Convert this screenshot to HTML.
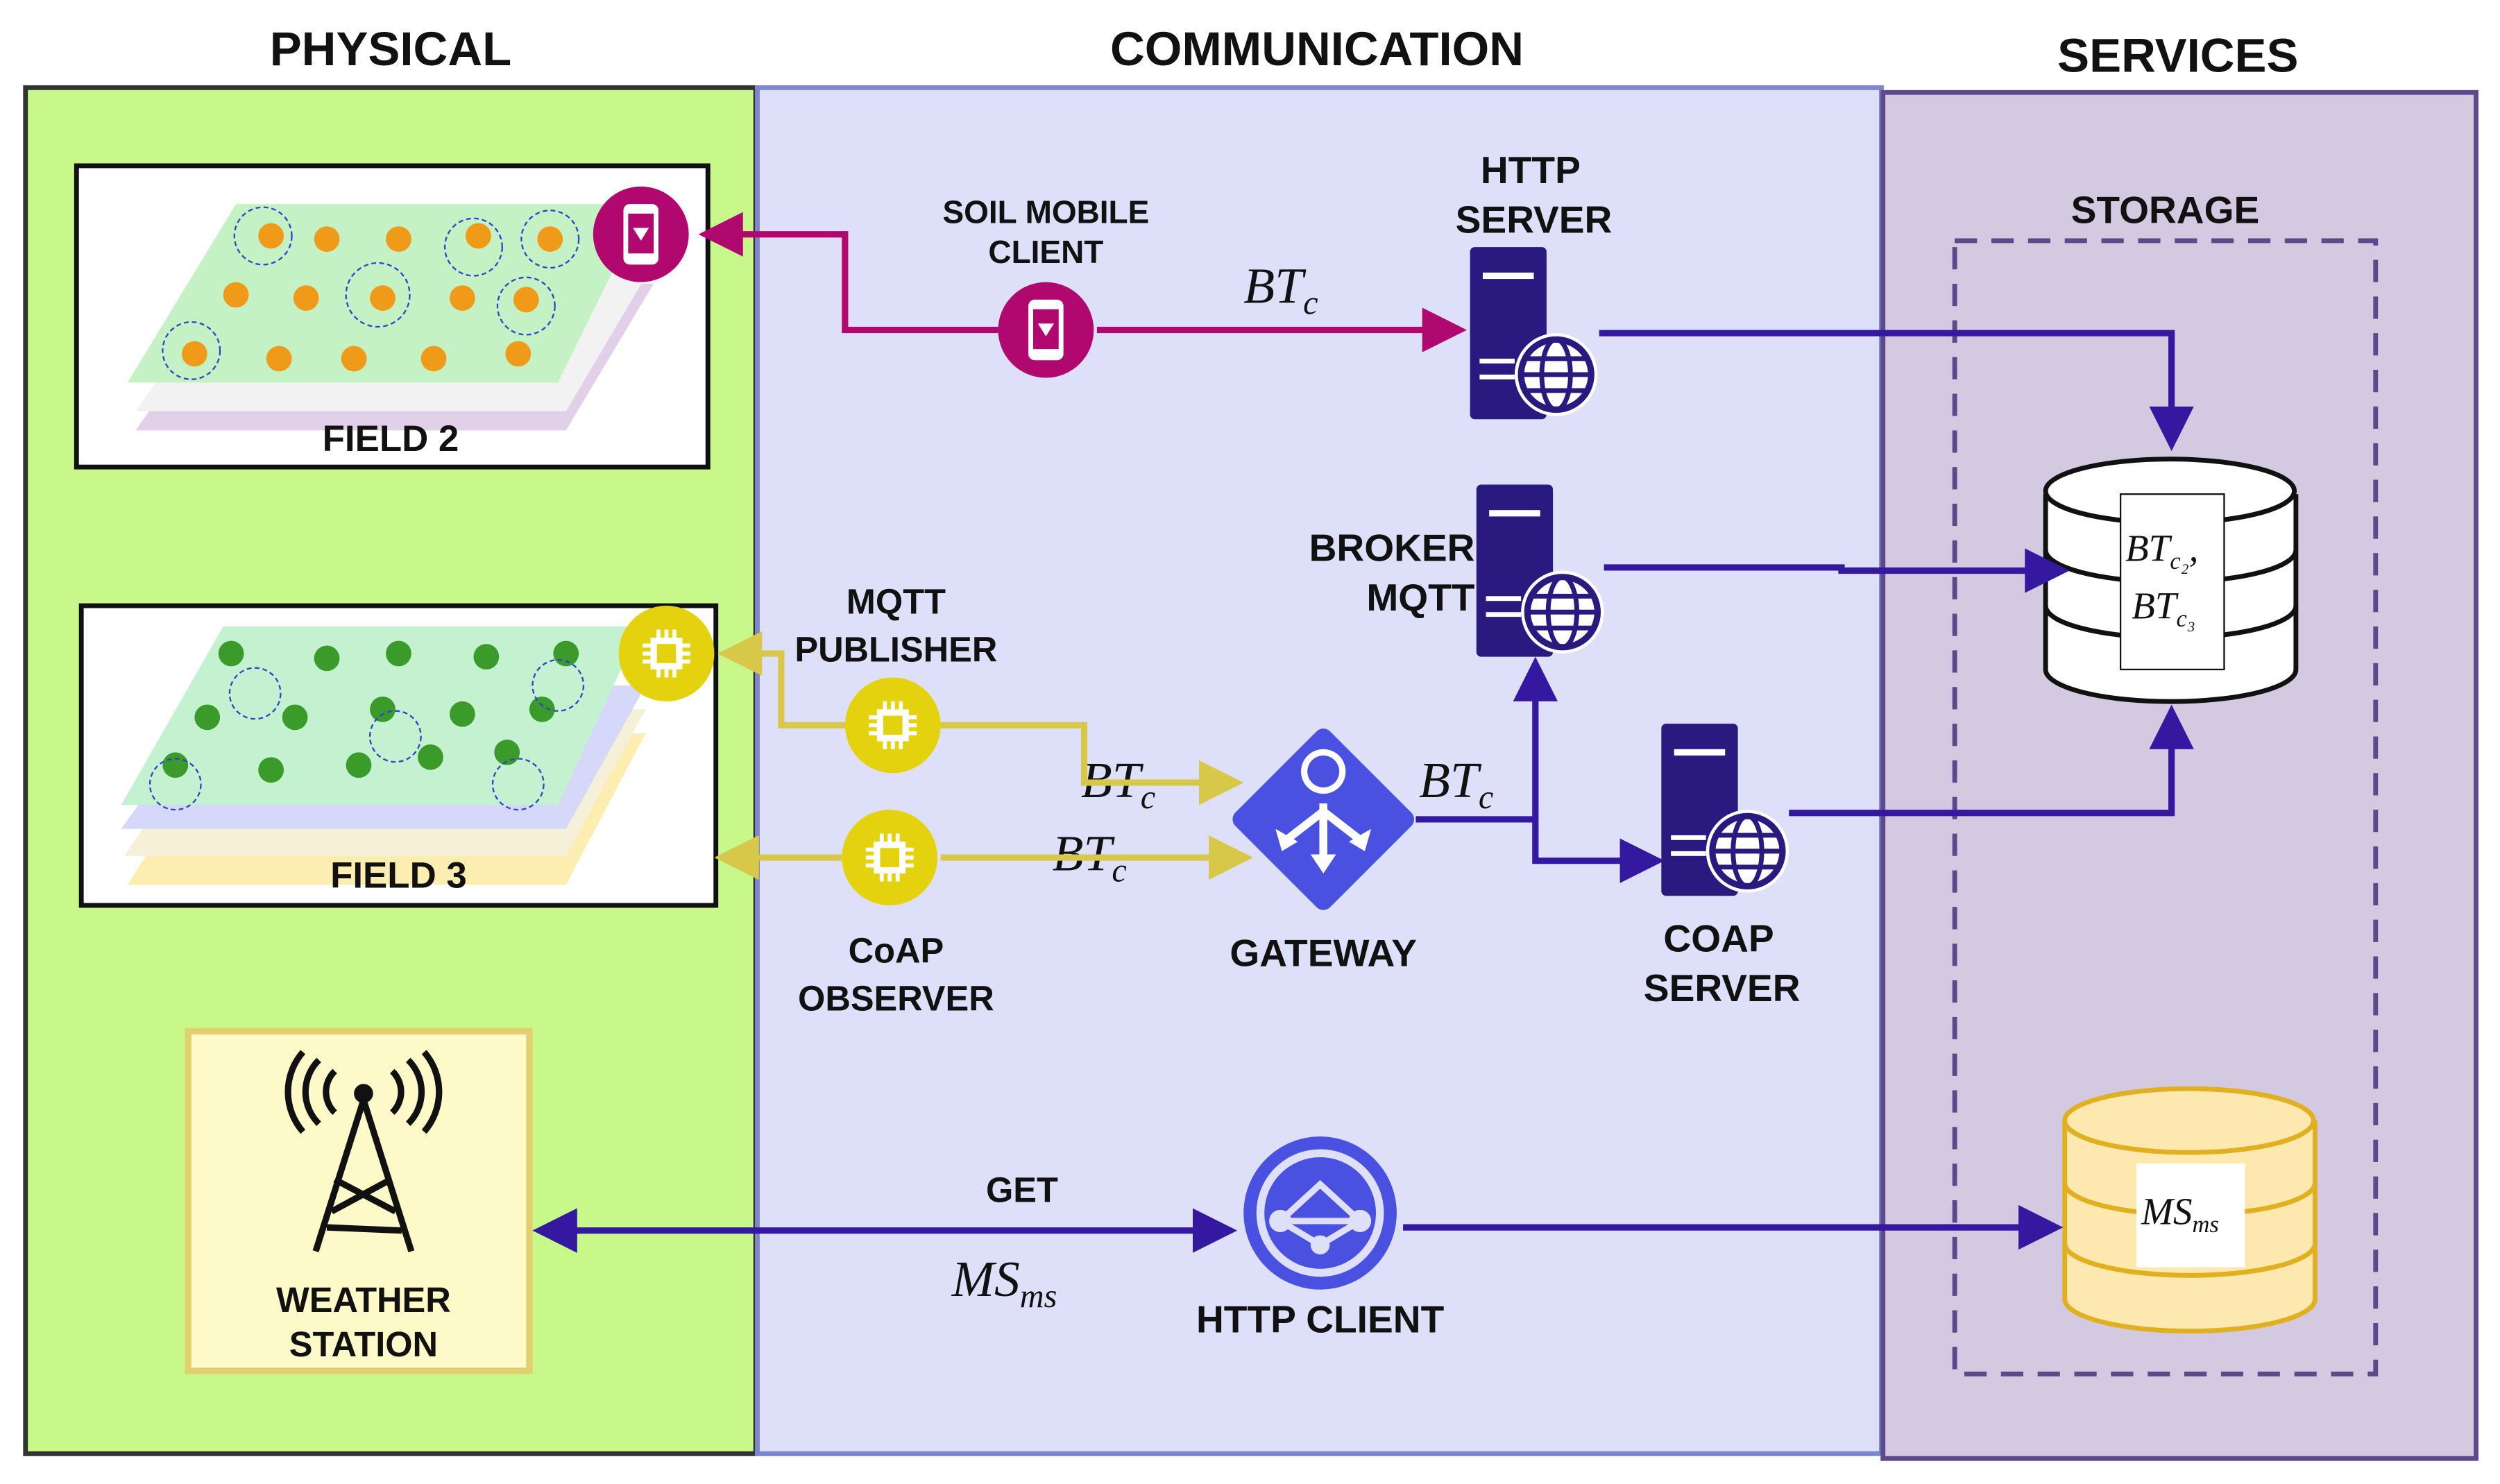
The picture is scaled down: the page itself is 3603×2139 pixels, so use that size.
<!DOCTYPE html>
<html><head><meta charset="utf-8"><style>
html,body{margin:0;padding:0;background:#fff}
svg{display:block}
text{font-family:"Liberation Sans",sans-serif;font-weight:bold;fill:#111}
.m{font-family:"Liberation Serif",serif;font-style:italic;font-weight:normal}
</style></head><body>
<svg width="3603" height="2139" viewBox="0 0 1568 931" preserveAspectRatio="none" xmlns="http://www.w3.org/2000/svg">
<defs>
<marker id="am" markerWidth="7" markerHeight="7" refX="5" refY="3.5" orient="auto" viewBox="0 0 7 7" markerUnits="strokeWidth"><path d="M0,0 L7,3.5 L0,7 z" fill="#b0086e"/></marker>
<marker id="ay" markerWidth="7" markerHeight="7" refX="5" refY="3.5" orient="auto" viewBox="0 0 7 7" markerUnits="strokeWidth"><path d="M0,0 L7,3.5 L0,7 z" fill="#d8c84a"/></marker>
<marker id="ab" markerWidth="7" markerHeight="7" refX="5" refY="3.5" orient="auto" viewBox="0 0 7 7" markerUnits="strokeWidth"><path d="M0,0 L7,3.5 L0,7 z" fill="#3418a0"/></marker>
<g id="srv"><rect x="0" y="0" width="48" height="108" rx="3" fill="#2a1a80"/><rect x="8" y="16" width="32" height="4" fill="#fff"/><rect x="6" y="70" width="22" height="3" fill="#fff"/><rect x="6" y="80" width="22" height="3" fill="#fff"/><circle cx="54" cy="80" r="26" fill="#fff"/><circle cx="54" cy="80" r="22" fill="none" stroke="#2a1a80" stroke-width="4"/><ellipse cx="54" cy="80" rx="9" ry="22" fill="none" stroke="#2a1a80" stroke-width="3"/><line x1="32" y1="80" x2="76" y2="80" stroke="#2a1a80" stroke-width="3"/><line x1="35" y1="70" x2="73" y2="70" stroke="#2a1a80" stroke-width="3"/><line x1="35" y1="90" x2="73" y2="90" stroke="#2a1a80" stroke-width="3"/></g>
<g id="chip"><circle r="30" fill="#e5d20e"/><rect x="-10" y="-10" width="20" height="20" fill="#fff"/><g stroke="#fff" stroke-width="2.5"><line x1="-5" y1="-15" x2="-5" y2="15"/><line x1="0" y1="-15" x2="0" y2="15"/><line x1="5" y1="-15" x2="5" y2="15"/><line x1="-15" y1="-5" x2="15" y2="-5"/><line x1="-15" y1="0" x2="15" y2="0"/><line x1="-15" y1="5" x2="15" y2="5"/></g><rect x="-6" y="-6" width="12" height="12" fill="#e5d20e"/></g>
<g id="phone"><circle r="30" fill="#b0086e"/><rect x="-11" y="-19" width="22" height="38" rx="4" fill="#fff"/><rect x="-8" y="-13" width="16" height="25" fill="#b0086e"/><path d="M-5,-4 L5,-4 L0,4 z" fill="#fff"/></g>
</defs>
<rect x="16" y="55" width="458" height="857" fill="#c8f78a" stroke="#333" stroke-width="3"/>
<rect x="475" y="55" width="705" height="857" fill="#dde0f8" stroke="#7b86cc" stroke-width="3"/>
<rect x="1181" y="58" width="372" height="857" fill="#d3c9e1" stroke="#5c4a8c" stroke-width="3"/>
<text x="245" y="41" font-size="30" text-anchor="middle">PHYSICAL</text>
<text x="826" y="41" font-size="30" text-anchor="middle">COMMUNICATION</text>
<text x="1366" y="45" font-size="30" text-anchor="middle">SERVICES</text>
<rect x="48" y="104" width="396" height="189" fill="#fff" stroke="#111" stroke-width="3"/>
<polygon points="85,270 355,270 410,178 150,178" fill="#e2cfe8"/>
<polygon points="85,258 355,258 410,165 150,165" fill="#f2f2f2"/>
<polygon points="80,240 350,240 405,128 148,128" fill="#c4f2c4"/>
<g fill="#f09a1a"><circle cx="170" cy="148" r="8"/><circle cx="205" cy="150" r="8"/><circle cx="250" cy="150" r="8"/><circle cx="300" cy="148" r="8"/><circle cx="345" cy="150" r="8"/><circle cx="148" cy="185" r="8"/><circle cx="192" cy="187" r="8"/><circle cx="240" cy="187" r="8"/><circle cx="290" cy="187" r="8"/><circle cx="330" cy="188" r="8"/><circle cx="122" cy="222" r="8"/><circle cx="175" cy="225" r="8"/><circle cx="222" cy="225" r="8"/><circle cx="272" cy="225" r="8"/><circle cx="325" cy="222" r="8"/></g>
<g fill="none" stroke="#3340cc" stroke-dasharray="3,2"><circle cx="165" cy="148" r="18"/><circle cx="297" cy="155" r="18"/><circle cx="345" cy="150" r="18"/><circle cx="237" cy="185" r="20"/><circle cx="330" cy="192" r="18"/><circle cx="120" cy="220" r="18"/></g>
<text x="245" y="283" font-size="23" text-anchor="middle" font-weight="900">FIELD 2</text>
<use href="#phone" x="402" y="147"/>
<rect x="51" y="380" width="398" height="188" fill="#fff" stroke="#111" stroke-width="3"/>
<polygon points="80,555 355,555 405,460 140,460" fill="#fbeeb0"/>
<polygon points="78,537 355,537 405,445 140,445" fill="#f6f0d8"/>
<polygon points="76,520 355,520 405,430 140,430" fill="#d6d8fa"/>
<polygon points="76,505 350,505 402,393 140,393" fill="#c4f2d0"/>
<g fill="#3a9a2a"><circle cx="145" cy="410" r="8"/><circle cx="205" cy="413" r="8"/><circle cx="250" cy="410" r="8"/><circle cx="305" cy="412" r="8"/><circle cx="355" cy="410" r="8"/><circle cx="130" cy="450" r="8"/><circle cx="185" cy="450" r="8"/><circle cx="240" cy="445" r="8"/><circle cx="290" cy="448" r="8"/><circle cx="340" cy="445" r="8"/><circle cx="110" cy="480" r="8"/><circle cx="170" cy="483" r="8"/><circle cx="225" cy="480" r="8"/><circle cx="270" cy="475" r="8"/><circle cx="318" cy="472" r="8"/></g>
<g fill="none" stroke="#3340cc" stroke-dasharray="3,2"><circle cx="160" cy="435" r="16"/><circle cx="350" cy="430" r="16"/><circle cx="248" cy="462" r="16"/><circle cx="110" cy="492" r="16"/><circle cx="325" cy="492" r="16"/></g>
<text x="250" y="557" font-size="23" text-anchor="middle" font-weight="900">FIELD 3</text>
<use href="#chip" x="418" y="410"/>
<rect x="118" y="647" width="214" height="213" fill="#fdf9c8" stroke="#e2d070" stroke-width="4"/>
<g stroke="#111" stroke-width="4" fill="none"><path d="M228,690 L198,785 M228,690 L258,785 M210,740 L248,760 M245,740 L208,760 M205,770 L252,772"/><path d="M210,672 a18,18 0 0 0 0,26 M246,672 a18,18 0 0 1 0,26 M200,665 a28,28 0 0 0 0,40 M256,665 a28,28 0 0 1 0,40 M190,660 a38,38 0 0 0 0,50 M266,660 a38,38 0 0 1 0,50"/></g>
<circle cx="228" cy="686" r="6" fill="#111"/>
<text x="228" y="823" font-size="22" text-anchor="middle">WEATHER</text>
<text x="228" y="851" font-size="22" text-anchor="middle">STATION</text>
<rect x="1226" y="151" width="264" height="711" fill="none" stroke="#5a4a8a" stroke-width="3" stroke-dasharray="14,9"/>
<text x="1358" y="140" font-size="24" text-anchor="middle">STORAGE</text>
<g stroke="#111" stroke-width="3" fill="#fff"><path d="M1283,310 v110 a78,20 0 0 0 157,0 v-110"/><path d="M1283,380 a78,20 0 0 0 157,0" fill="none"/><path d="M1283,345 a78,20 0 0 0 157,0" fill="none"/><ellipse cx="1361" cy="308" rx="78" ry="20"/></g>
<rect x="1330" y="310" width="65" height="110" fill="#fff" stroke="#111" stroke-width="1"/>
<text class="m" x="1333" y="352" font-size="24">BT<tspan font-size="15" dy="5">c₂</tspan><tspan dy="-5">,</tspan></text>
<text class="m" x="1337" y="388" font-size="24">BT<tspan font-size="15" dy="5">c₃</tspan></text>
<g stroke="#e0b020" stroke-width="3" fill="#fde9b0"><path d="M1295,703 v112 a78,20 0 0 0 157,0 v-112"/><path d="M1295,780 a78,20 0 0 0 157,0" fill="none"/><path d="M1295,742 a78,20 0 0 0 157,0" fill="none"/><ellipse cx="1373" cy="703" rx="78" ry="20"/></g>
<rect x="1340" y="730" width="68" height="65" fill="#fff"/>
<text class="m" x="1343" y="768" font-size="24">MS<tspan font-size="15" dy="5">ms</tspan></text>
<text x="656" y="140" font-size="20" text-anchor="middle">SOIL MOBILE</text>
<text x="656" y="165" font-size="20" text-anchor="middle">CLIENT</text>
<text x="960" y="115" font-size="24" text-anchor="middle">HTTP</text>
<text x="962" y="146" font-size="24" text-anchor="middle">SERVER</text>
<text x="925" y="352" font-size="24" text-anchor="end">BROKER</text>
<text x="925" y="383" font-size="24" text-anchor="end">MQTT</text>
<text x="562" y="385" font-size="22" text-anchor="middle">MQTT</text>
<text x="562" y="415" font-size="22" text-anchor="middle">PUBLISHER</text>
<text x="562" y="604" font-size="22" text-anchor="middle">CoAP</text>
<text x="562" y="634" font-size="22" text-anchor="middle">OBSERVER</text>
<text x="830" y="606" font-size="24" text-anchor="middle">GATEWAY</text>
<text x="1078" y="597" font-size="24" text-anchor="middle">COAP</text>
<text x="1080" y="628" font-size="24" text-anchor="middle">SERVER</text>
<text x="828" y="836" font-size="24" text-anchor="middle">HTTP CLIENT</text>
<text x="641" y="754" font-size="22" text-anchor="middle" font-weight="normal">GET</text>
<text class="m" x="597" y="813" font-size="32">MS<tspan font-size="21" dy="7">ms</tspan></text>
<text class="m" x="780" y="190" font-size="32">BT<tspan font-size="21" dy="7">c</tspan></text>
<text class="m" x="678" y="500" font-size="32">BT<tspan font-size="21" dy="7">c</tspan></text>
<text class="m" x="660" y="546" font-size="32">BT<tspan font-size="21" dy="7">c</tspan></text>
<text class="m" x="890" y="500" font-size="32">BT<tspan font-size="21" dy="7">c</tspan></text>
<g stroke="#b0086e" stroke-width="4" fill="none"><path d="M688,207 L912,207" marker-end="url(#am)"/><path d="M626,207 L530,207 L530,147 L446,147" marker-end="url(#am)"/></g>
<use href="#phone" x="656" y="207"/>
<g stroke="#d8c84a" stroke-width="4" fill="none"><path d="M590,455 L680,455 L680,491 L772,491" marker-end="url(#ay)"/><path d="M530,455 L490,455 L490,410 L458,410" marker-end="url(#ay)"/><path d="M590,538 L778,538" marker-end="url(#ay)"/><path d="M528,538 L456,538" marker-end="url(#ay)"/></g>
<use href="#chip" x="560" y="455"/>
<use href="#chip" x="558" y="538"/>
<g stroke="#3418a0" stroke-width="4" fill="none"><path d="M1003,209 L1362,209 L1362,275" marker-end="url(#ab)"/><path d="M1006,356 L1155,356 L1155,358 L1290,358" marker-end="url(#ab)"/><path d="M1122,510 L1362,510 L1362,450" marker-end="url(#ab)"/><path d="M888,514 L963,514 L963,540 L1036,540" marker-end="url(#ab)"/><path d="M963,514 L963,420" marker-end="url(#ab)"/><path d="M480,772 L768,772" marker-end="url(#ab)"/><path d="M480,772 L342,772" marker-end="url(#ab)"/><path d="M880,770 L1286,770" marker-end="url(#ab)"/></g>
<use href="#srv" x="922" y="155"/>
<use href="#srv" x="926" y="304"/>
<use href="#srv" x="1042" y="454"/>
<g transform="translate(830,514)"><rect x="-42" y="-42" width="84" height="84" transform="rotate(45)" rx="6" fill="#4a50e0"/><circle cx="0" cy="-30" r="14" fill="#fff"/><circle cx="0" cy="-30" r="10" fill="#4a50e0"/><path d="M0,-10 V28 M0,-5 L-22,12 M0,-5 L22,12" stroke="#fff" stroke-width="5" fill="none"/><path d="M-8,22 L0,34 L8,22 z M-30,6 L-26,20 L-16,14 z M30,6 L26,20 L16,14 z" fill="#fff"/></g>
<g transform="translate(828,761)"><circle r="48" fill="#4a50e0"/><circle r="40" fill="#dde0f8"/><circle r="35" fill="#4a50e0"/><path d="M-25,5 L0,-18 L25,5 L0,20 z M-25,5 L25,5" stroke="#dde0f8" stroke-width="4" fill="none"/><circle cx="-25" cy="5" r="7" fill="#dde0f8"/><circle cx="25" cy="5" r="7" fill="#dde0f8"/><circle cx="0" cy="20" r="6" fill="#dde0f8"/></g>
</svg>
</body></html>
